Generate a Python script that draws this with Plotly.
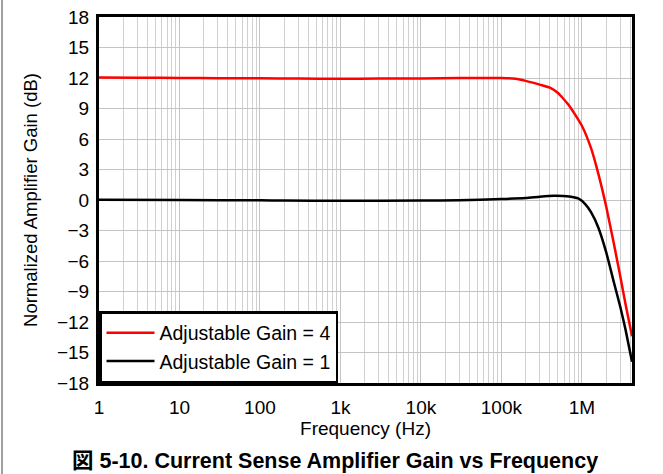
import plotly.graph_objects as go

freq_g4 = [1, 3, 10, 30, 100, 300, 1000, 3000, 10000, 30000, 100000, 150000, 200000,
           300000, 400000, 500000, 700000, 1000000, 1300000, 1600000, 2000000,
           2500000, 3000000, 3500000, 4200000]
gain_g4 = [12.05, 12.03, 12.0, 11.98, 11.97, 11.94, 11.93, 11.94, 11.96, 11.99, 12.0,
           11.92, 11.72, 11.35, 11.05, 10.55, 9.25, 7.3, 5.1, 2.6, -0.6, -4.3, -7.5,
           -10.3, -13.4]

freq_g1 = [1, 10, 100, 200, 1000, 10000, 30000, 100000, 200000, 300000, 450000,
           700000, 900000, 1100000, 1300000, 1600000, 2000000, 2500000, 3000000,
           3500000, 4200000]
gain_g1 = [0.02, 0.0, -0.03, -0.05, -0.07, -0.05, -0.02, 0.1, 0.2, 0.33, 0.42, 0.35,
           0.15, -0.4, -1.2, -2.7, -5.1, -8.1, -10.5, -12.8, -15.9]

x_tickvals = [1, 10, 100, 1000, 10000, 100000, 1000000]
x_ticktext = ["1", "10", "100", "1k", "10k", "100k", "1M"]
y_tickvals = list(range(-18, 19, 3))

FONT = "Liberation Sans, Arial, sans-serif"
W, H = 663, 474
L, R, T, B = 99, 31, 17, 91
PW, PH = W - L - R, H - T - B

fig = go.Figure()
fig.add_trace(go.Scatter(x=freq_g4, y=gain_g4, mode="lines", name="Adjustable Gain = 4",
                         line=dict(color="#ff0000", width=2.5, shape="spline", smoothing=0.5)))
fig.add_trace(go.Scatter(x=freq_g1, y=gain_g1, mode="lines", name="Adjustable Gain = 1",
                         line=dict(color="#000000", width=2.5, shape="spline", smoothing=0.5)))

fig.update_layout(
    width=W, height=H,
    margin=dict(l=L, r=R, t=T, b=B, autoexpand=False),
    paper_bgcolor="white", plot_bgcolor="white",
    font=dict(family=FONT, size=19, color="black"),
    legend=dict(x=0, y=0, xanchor="left", yanchor="bottom",
                bgcolor="white", bordercolor="black", borderwidth=2.5,
                font=dict(size=19.5, family=FONT), tracegroupgap=0, itemwidth=48),
    xaxis=dict(type="log", range=[0, 6.623],
               tickvals=x_tickvals, ticktext=x_ticktext,
               showgrid=True, gridcolor="#c4c4c4", gridwidth=1,
               minor=dict(showgrid=True, gridcolor="#d0d0d0", gridwidth=1, dtick="D1"),
               showline=True, linecolor="black", linewidth=3, mirror=True,
               ticks="", tickfont=dict(size=19), ticklabelstandoff=5,
               title=dict(text="Frequency (Hz)", font=dict(size=19), standoff=2),
               zeroline=False),
    yaxis=dict(range=[-18, 18], tickvals=y_tickvals,
               showgrid=True, gridcolor="#c4c4c4", gridwidth=1,
               showline=True, linecolor="black", linewidth=3, mirror=True,
               ticks="", tickfont=dict(size=19), ticklabelstandoff=3,
               title=dict(text="Normalized Amplifier Gain (dB)", font=dict(size=18.5), standoff=15),
               zeroline=False),
    shapes=[dict(type="line", xref="paper", yref="paper",
                 x0=(2 - L) / PW, x1=(2 - L) / PW, y0=-B / PH, y1=1 + T / PH,
                 line=dict(color="#808080", width=1.5))],
    annotations=[dict(text="<b>図 5-10. Current Sense Amplifier Gain vs Frequency</b>",
                      xref="paper", yref="paper", x=(335 - L) / PW, y=-(461 - (T + PH)) / PH,
                      xanchor="center", yanchor="middle", showarrow=False,
                      font=dict(size=21.5, family="Liberation Sans, Noto Sans CJK JP"))],
)

fig.write_html("out.html", config={"displayModeBar": False},
               post_script="document.body.style.margin='0';document.body.style.overflow='hidden';")
